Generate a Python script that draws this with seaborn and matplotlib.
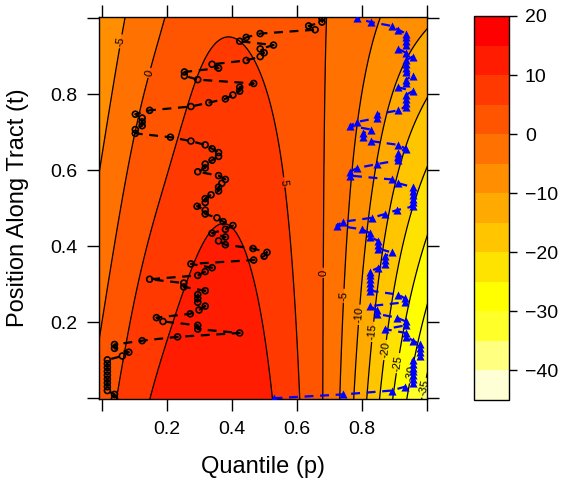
import numpy as np
import pandas as pd
import matplotlib
matplotlib.use("Agg")
import matplotlib.pyplot as plt
import seaborn as sns

# surface: value at t=0 (intercept) and change over t (slope), read at these quantiles
p_knots = [0.0, 0.1, 0.2, 0.3, 0.4, 0.5, 0.6, 0.7, 0.8, 0.9, 1.0]
intercept_knots = [2.2, 7.9, 11.7, 14.1, 14.5, 11.3, 5.6, -1.7, -13.0, -25.5, -36.6]
slope_knots = [-11.4, -11.5, -11.5, -10.6, -10.0, -7.6, -3.5, 1.5, 10.0, 19.0, 27.4]

level_breaks = [-45, -40, -35, -30, -25, -20, -15, -10, -5, 0, 5, 10, 15, 20]
band_colors = ["#FFFFD5", "#FFFF80", "#FFFF2A", "#FFFF00", "#FFE300", "#FFC600",
               "#FFAA00", "#FF8E00", "#FF7100", "#FF5500", "#FF3900", "#FF1C00",
               "#FF0000"]
cbar_ticks = [-40, -30, -20, -10, 0, 10, 20]

# where the contour labels sit (p, t)
label_spots = [(0.053, 0.94), (0.13, 0.86), (0.58, 0.57), (0.68, 0.33),
               (0.735, 0.27), (0.785, 0.22), (0.83, 0.175), (0.872, 0.127),
               (0.908, 0.093), (0.943, 0.067), (0.98, 0.03)]

# observed quantile at each of the 100 tract positions
black_p = [0.040, 0.040, 0.018, 0.018, 0.018, 0.018, 0.018, 0.018, 0.018, 0.018,
           0.018, 0.064, 0.084, 0.040, 0.040, 0.125, 0.234, 0.425, 0.296, 0.296,
           0.189, 0.169, 0.273, 0.300, 0.319, 0.296, 0.296, 0.296, 0.319, 0.253,
           0.253, 0.148, 0.296, 0.319, 0.340, 0.275, 0.468, 0.500, 0.509, 0.466,
           0.381, 0.360, 0.381, 0.340, 0.381, 0.404, 0.374, 0.355, 0.319, 0.319,
           0.294, 0.319, 0.319, 0.337, 0.360, 0.360, 0.370, 0.381, 0.360, 0.296,
           0.319, 0.319, 0.340, 0.360, 0.360, 0.340, 0.319, 0.275, 0.212, 0.104,
           0.104, 0.125, 0.125, 0.125, 0.104, 0.148, 0.275, 0.330, 0.381, 0.404,
           0.425, 0.425, 0.468, 0.296, 0.255, 0.255, 0.360, 0.340, 0.445, 0.488,
           0.500, 0.488, 0.529, 0.425, 0.445, 0.488, 0.657, 0.637, 0.678, 0.678]
blue_p = [0.529, 0.744, 0.892, 0.933, 0.957, 0.957, 0.957, 0.957, 0.957, 0.957,
          0.957, 0.979, 0.979, 0.979, 0.979, 0.959, 0.936, 0.936, 0.872, 0.936,
          0.936, 0.908, 0.846, 0.846, 0.826, 0.933, 0.933, 0.913, 0.826, 0.826,
          0.826, 0.826, 0.826, 0.826, 0.851, 0.872, 0.872, 0.872, 0.892, 0.851,
          0.851, 0.851, 0.826, 0.826, 0.800, 0.723, 0.744, 0.831, 0.872, 0.908,
          0.959, 0.957, 0.957, 0.957, 0.957, 0.957, 0.913, 0.892, 0.764, 0.764,
          0.787, 0.848, 0.913, 0.913, 0.913, 0.936, 0.913, 0.828, 0.805, 0.805,
          0.828, 0.764, 0.787, 0.848, 0.848, 0.913, 0.936, 0.936, 0.936, 0.936,
          0.957, 0.913, 0.936, 0.936, 0.957, 0.936, 0.936, 0.936, 0.936, 0.957,
          0.936, 0.913, 0.936, 0.936, 0.936, 0.936, 0.913, 0.892, 0.828, 0.785]
tract_pos = np.linspace(0, 1, 100)


def natural_spline(xk, yk, x):
    xk = np.asarray(xk, float)
    yk = np.asarray(yk, float)
    n = len(xk)
    h = np.diff(xk)
    mat = np.zeros((n, n))
    rhs = np.zeros(n)
    mat[0, 0] = mat[-1, -1] = 1.0
    for i in range(1, n - 1):
        mat[i, i - 1] = h[i - 1]
        mat[i, i] = 2 * (h[i - 1] + h[i])
        mat[i, i + 1] = h[i]
        rhs[i] = 6 * ((yk[i + 1] - yk[i]) / h[i] - (yk[i] - yk[i - 1]) / h[i - 1])
    m = np.linalg.solve(mat, rhs)
    j = np.clip(np.searchsorted(xk, x) - 1, 0, n - 2)
    a = (xk[j + 1] - x) / h[j]
    b = (x - xk[j]) / h[j]
    return a * yk[j] + b * yk[j + 1] + ((a**3 - a) * m[j] + (b**3 - b) * m[j + 1]) * h[j]**2 / 6


sns.set_theme(style="ticks")
plt.rcParams["font.family"] = ["Liberation Sans", "DejaVu Sans"]
plt.rcParams["text.color"] = "black"
plt.rcParams["axes.labelcolor"] = "black"
plt.rcParams["xtick.color"] = "black"
plt.rcParams["ytick.color"] = "black"

p_grid = np.linspace(-0.01, 1.01, 300)
t_grid = np.linspace(-0.01, 1.01, 220)
P, T = np.meshgrid(p_grid, t_grid)
Z = natural_spline(p_knots, intercept_knots, P) + natural_spline(p_knots, slope_knots, P) * T

fig = plt.figure(figsize=(5.62, 4.84), dpi=100)
ax = fig.add_axes([99 / 562, 1 - 399 / 484, 328 / 562, 382.3 / 484])
cax = fig.add_axes([474 / 562, 1 - 400 / 484, 35 / 562, 384 / 484])

cf = ax.contourf(P, T, Z, levels=level_breaks, colors=band_colors)
cs = ax.contour(P, T, Z, levels=level_breaks, colors="black", linewidths=0.9,
                linestyles="solid")
ax.clabel(cs, fmt="%d", fontsize=8, inline=True, inline_spacing=2, manual=label_spots,
          colors="black")

df_black = pd.DataFrame({"p": black_p, "t": tract_pos})
df_blue = pd.DataFrame({"p": blue_p, "t": tract_pos})

sns.lineplot(data=df_black, x="p", y="t", sort=False, estimator=None, color="black",
             linestyle=(0, (4, 3)), linewidth=1.6, ax=ax)
sns.scatterplot(data=df_black, x="p", y="t", marker="o", facecolor="none",
                edgecolor="black", s=18, linewidth=1.2, ax=ax, zorder=4)
sns.lineplot(data=df_blue, x="p", y="t", sort=False, estimator=None, color="#0000FF",
             linestyle=(0, (4, 3)), linewidth=1.6, ax=ax)
sns.scatterplot(data=df_blue, x="p", y="t", marker="^", color="#0000FF", s=34,
                linewidth=0, ax=ax, zorder=4)

ax.set_xlim(-0.0077, 1.001)
ax.set_ylim(-0.002, 1.004)
ax.set_xticks([0, 0.2, 0.4, 0.6, 0.8, 1.0])
ax.set_xticklabels(["", "0.2", "0.4", "0.6", "0.8", ""])
ax.set_yticks([0, 0.2, 0.4, 0.6, 0.8, 1.0])
ax.set_yticklabels(["", "0.2", "0.4", "0.6", "0.8", ""])
ax.tick_params(direction="out", length=8.5, width=1, top=True, right=True,
               labelsize=14, pad=7, color="black", labelcolor="black")
for sp in ax.spines.values():
    sp.set_visible(True)
    sp.set_linewidth(1)
    sp.set_color("black")
ax.set(xlabel="", ylabel="")

fig.text(263 / 562, 1 - 467 / 484, "Quantile (p)", fontsize=17, ha="center", va="center")
fig.text(18 / 562, 1 - 208 / 484, "Position Along Tract (t)", fontsize=17,
         ha="center", va="center", rotation=90)

cb = fig.colorbar(cf, cax=cax, ticks=cbar_ticks)
cb.outline.set_linewidth(1)
cb.outline.set_edgecolor("black")
cax.tick_params(direction="out", length=5.5, width=1, labelsize=14, pad=6,
                color="black", labelcolor="black")

fig.savefig("out.png", dpi=100)
